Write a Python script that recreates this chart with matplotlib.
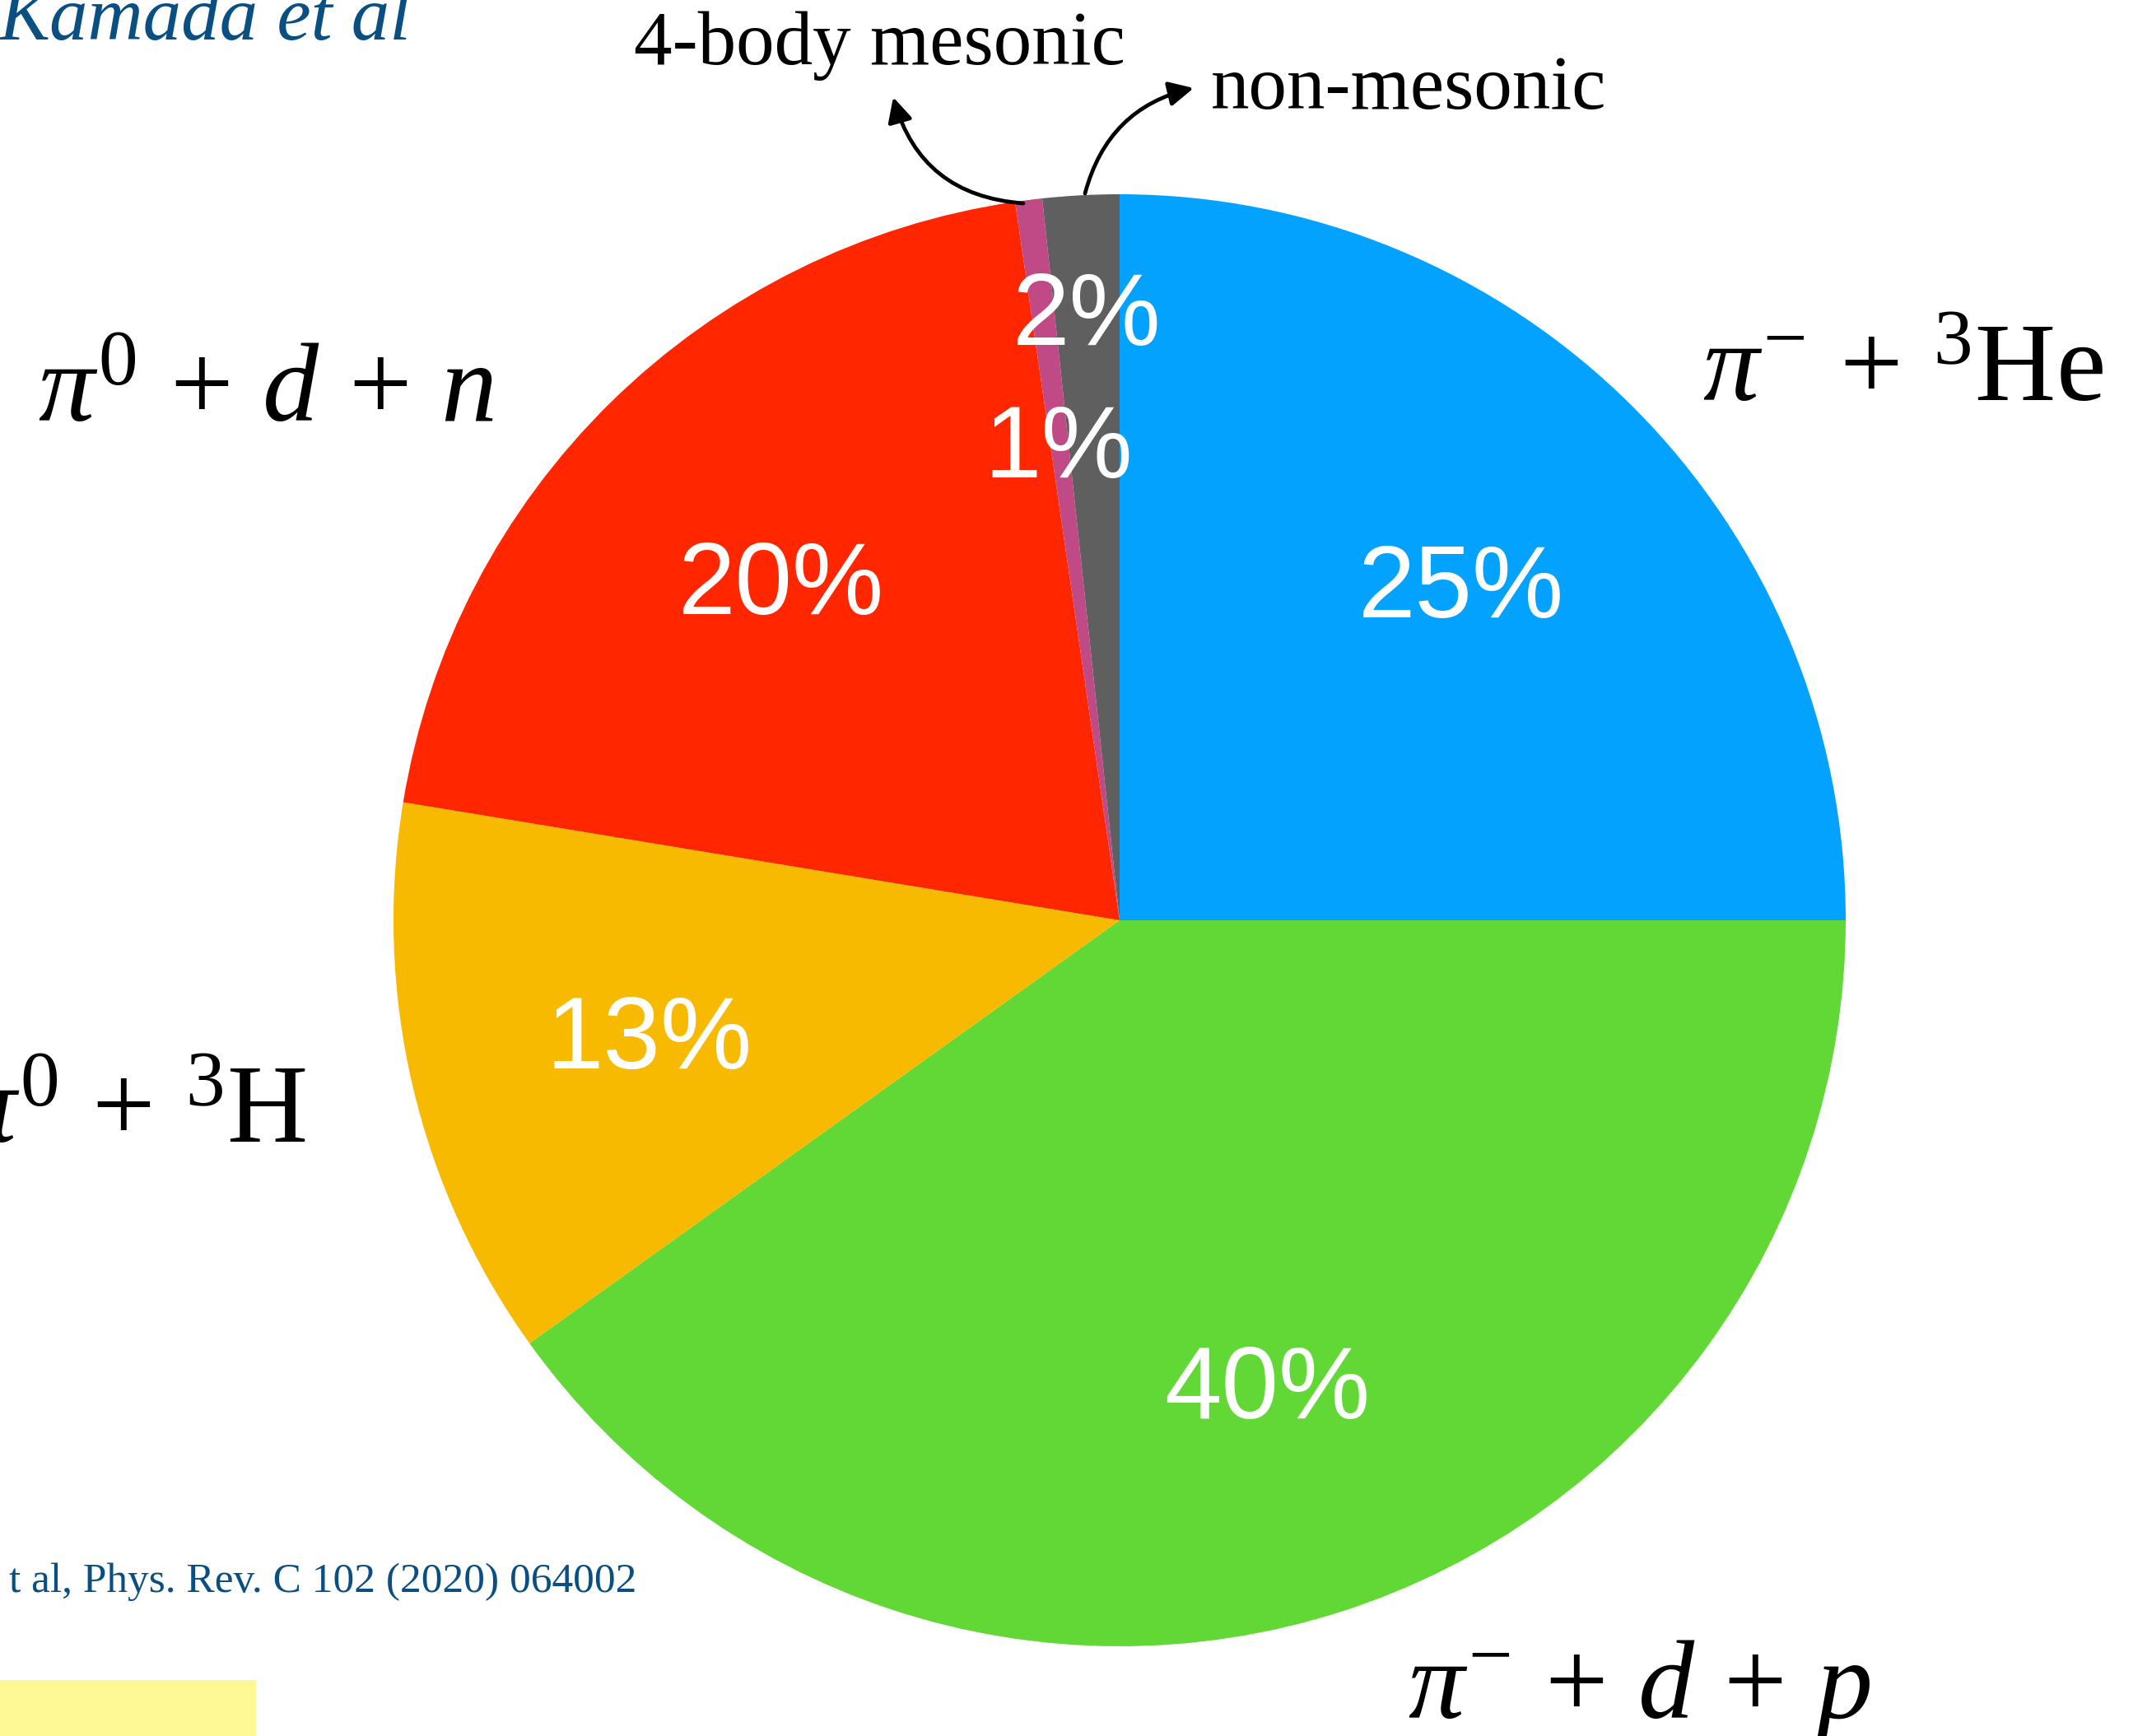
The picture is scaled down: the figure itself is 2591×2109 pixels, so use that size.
import matplotlib
matplotlib.use("Agg")
import matplotlib.pyplot as plt
import matplotlib.transforms as mtransforms
import numpy as np
from matplotlib.patches import FancyArrowPatch, Rectangle

# ---- data ----
categories = ["pi- + 3He", "pi- + d + p", "pi0 + 3H", "pi0 + d + n", "4-body mesonic", "non-mesonic"]
values = [25.0, 40.1, 12.5, 20.1, 0.6, 1.7]
pct_labels = ["25%", "40%", "13%", "20%", "1%", "2%"]
colors = ["#03A2FE", "#61D836", "#F8BA00", "#FF2600", "#C04A86", "#5F5F5F"]

plt.rcParams['mathtext.fontset'] = 'custom'
plt.rcParams['mathtext.rm'] = 'Liberation Serif'
plt.rcParams['mathtext.it'] = 'Liberation Serif:italic'
plt.rcParams['mathtext.bf'] = 'Liberation Serif:bold'

W, H = 2591, 2109
fig = plt.figure(figsize=(W / 100, H / 100), dpi=100)
fig.patch.set_facecolor("white")

def fx(x):
    return x / W

def fy(y):
    return (H - y) / H

cx, cy, R = 1360, 1118, 882
ax = fig.add_axes([(cx - R) / W, (H - cy - R) / H, 2 * R / W, 2 * R / H])
wedges, _ = ax.pie(values, colors=colors, startangle=90, counterclock=False,
                   radius=1, wedgeprops=dict(linewidth=0))
ax.set_xlim(-1, 1)
ax.set_ylim(-1, 1)
ax.set_aspect('equal')
ax.axis('off')

label_dist = [0.665, 0.665, 0.665, 0.665, 0.668, 0.847]
txt_tr = mtransforms.offset_copy(ax.transData, fig=fig, x=0, y=-15, units='dots')
for w, lab, d in zip(wedges, pct_labels, label_dist):
    th = np.deg2rad((w.theta1 + w.theta2) / 2)
    ax.text(d * np.cos(th), d * np.sin(th), lab, color="white", transform=txt_tr,
            fontsize=90, family="Liberation Sans", ha="center", va="center")

# outer category labels
big = 98
fig.text(fx(2068), fy(487), r"$\pi^{-}\,+\,{}^{3}\mathrm{He}$", fontsize=big, ha="left", va="baseline")
fig.text(fx(46), fy(512), r"$\pi^{0}\,+\,d\,+\,n$", fontsize=big, ha="left", va="baseline")
fig.text(fx(372), fy(1388), r"$\pi^{0}\,+\,{}^{3}\mathrm{H}$", fontsize=big, ha="right", va="baseline")
fig.text(fx(1710), fy(2087), r"$\pi^{-}\,+\,d\,+\,p$", fontsize=big, ha="left", va="baseline")

fig.text(fx(770), fy(78), "4-body mesonic", fontsize=67, family="Liberation Serif",
         ha="left", va="baseline")
fig.text(fx(1471), fy(132), "non-mesonic", fontsize=67, family="Liberation Serif",
         ha="left", va="baseline")

# arrows
a1 = FancyArrowPatch((fx(1318), fy(235)), (fx(1450), fy(107)), transform=fig.transFigure,
                     arrowstyle="-|>", connectionstyle="arc3,rad=-0.3", lw=3.4,
                     color="black", mutation_scale=45, shrinkA=0, shrinkB=0)
a2 = FancyArrowPatch((fx(1243), fy(247)), (fx(1085), fy(118)), transform=fig.transFigure,
                     arrowstyle="-|>", connectionstyle="arc3,rad=-0.35", lw=3.4,
                     color="black", mutation_scale=45, shrinkA=0, shrinkB=0)
fig.add_artist(a1)
fig.add_artist(a2)

# reference texts
blue_txt = "#0A4F82"
fig.text(fx(499), fy(48), "Kamada et al", fontsize=67, family="Liberation Serif",
         style="italic", color=blue_txt, ha="right", va="baseline")
fig.text(fx(773), fy(1934), "t al, Phys. Rev. C 102 (2020) 064002", fontsize=37,
         family="Liberation Serif", color=blue_txt, ha="right", va="baseline")

fig.add_artist(Rectangle((0, 0), fx(311), (H - 2041) / H,
                         transform=fig.transFigure, facecolor="#FEF995", edgecolor="none"))

fig.savefig("out.png", dpi=100)
